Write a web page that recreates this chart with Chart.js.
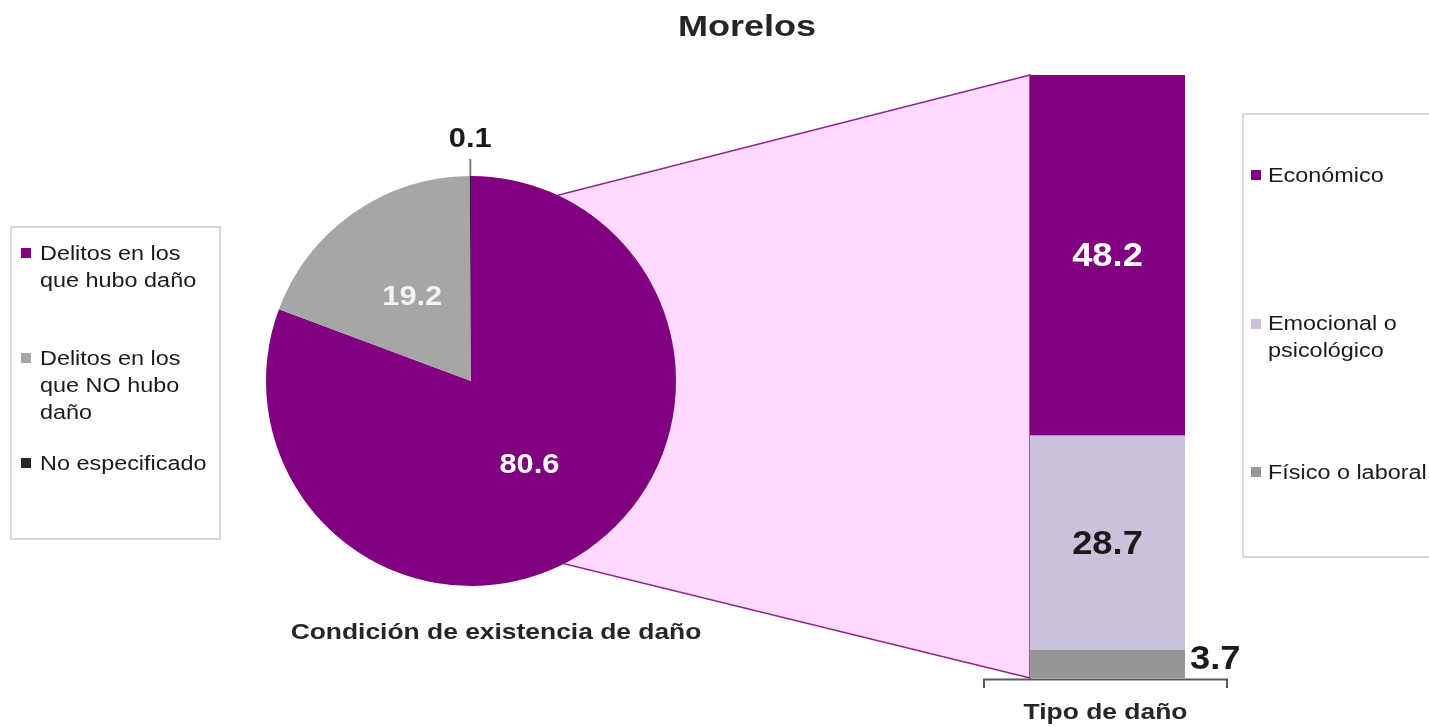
<!DOCTYPE html>
<html><head><meta charset="utf-8">
<script src="https://cdn.jsdelivr.net/npm/chart.js@4"></script>
<style>
html,body{margin:0;padding:0;background:#fff;width:1429px;height:727px;overflow:hidden;font-family:"Liberation Sans",Arial,sans-serif;}
canvas{position:absolute;left:0;top:0;}
.legend{position:absolute;border:2px solid #d9d9d9;box-sizing:border-box;}
.mk{position:absolute;width:10px;height:10px;}
.lt{position:absolute;font-size:19.5px;line-height:27px;color:#1a1a1a;transform:scaleX(1.2);transform-origin:0 0;}
</style></head><body>
<canvas id="bg" width="1429" height="727"></canvas>
<canvas id="pie" width="1429" height="727"></canvas>
<canvas id="bar" width="1429" height="727"></canvas>
<div id="legL" class="legend" style="left:10px;top:226px;width:211px;height:314px"></div>
<div id="legR" class="legend" style="left:1242px;top:113px;width:230px;height:445px"></div>
<script>
// ---- data ----
const TITLE = "Morelos";
const pieCategories = ["Delitos en los que hubo daño", "Delitos en los que NO hubo daño", "No especificado"];
const pieValues = [80.6, 19.2, 0.1];
const barCategories = ["Económico", "Emocional o psicológico", "Físico o laboral"];
const barValues = [48.2, 28.7, 3.7];
const pieAxisLabel = "Condición de existencia de daño";
const barAxisLabel = "Tipo de daño";

// ---- styles ----
const pieColors = ["#800080", "#A6A6A6", "#262626"];
const barColors = ["#800080", "#CCC1DA", "#969696"];
const FONT = '"Liberation Sans", Arial, sans-serif';

function drawText(ctx, text, x, y, size, color, align, sx) {
  ctx.save();
  ctx.translate(x, y);
  ctx.scale(sx, 1);
  ctx.font = "bold " + size + "px " + FONT;
  ctx.fillStyle = color;
  ctx.textAlign = align;
  ctx.textBaseline = "middle";
  ctx.fillText(text, 0, 0);
  ctx.restore();
}
function isDark(hex) {
  const n = parseInt(hex.slice(1), 16);
  const r = n >> 16, g = (n >> 8) & 255, b = n & 255;
  return (0.299 * r + 0.587 * g + 0.114 * b) < 140;
}

// ---- pie ----
const pieLabelPlugin = {
  id: "pieLabels",
  afterDatasetsDraw(chart) {
    const ctx = chart.ctx;
    chart.getDatasetMeta(0).data.forEach((arc, i) => {
      const v = pieValues[i];
      const mid = (arc.startAngle + arc.endAngle) / 2;
      const r = arc.outerRadius;
      if (v < 1) {
        ctx.save();
        ctx.strokeStyle = "#808080";
        ctx.lineWidth = 2;
        ctx.beginPath();
        ctx.moveTo(arc.x + Math.cos(mid) * r, arc.y + Math.sin(mid) * r);
        ctx.lineTo(arc.x + Math.cos(mid) * (r + 17), arc.y + Math.sin(mid) * (r + 17));
        ctx.stroke();
        ctx.restore();
        drawText(ctx, v.toFixed(1), arc.x + Math.cos(mid) * (r + 37), arc.y + Math.sin(mid) * (r + 37), 28, "#1a1a1a", "center", 1.1);
      } else {
        const p = arc.tooltipPosition();
        const col = i === 0 ? "#ffffff" : "#f2f2f2";
        drawText(ctx, v.toFixed(1), p.x, p.y, 28, col, "center", 1.1);
      }
    });
  }
};
const pieChart = new Chart(document.getElementById("pie"), {
  type: "pie",
  data: {
    labels: pieCategories,
    datasets: [{ data: pieValues, backgroundColor: pieColors, borderWidth: 0 }]
  },
  options: {
    responsive: false, animation: false, devicePixelRatio: 1,
    layout: { padding: { left: 266, right: 753, top: 176, bottom: 141 } },
    plugins: { legend: { display: false }, tooltip: { enabled: false }, title: { display: false } }
  },
  plugins: [pieLabelPlugin]
});

// ---- stacked bar ----
const barOrder = barValues.map((v, i) => i).reverse(); // bottom-most first
const barTotal = barValues.reduce((a, b) => a + b, 0);
const barLabelPlugin = {
  id: "barLabels",
  afterDatasetsDraw(chart) {
    const ctx = chart.ctx;
    chart.data.datasets.forEach((ds, di) => {
      const el = chart.getDatasetMeta(di).data[0];
      const idx = barOrder[di];
      const v = barValues[idx];
      const h = Math.abs(el.base - el.y);
      const cy = (el.y + el.base) / 2;
      if (h < 40) {
        drawText(ctx, v.toFixed(1), el.x + el.width / 2 + 5, cy - 4, 33, "#1a1a1a", "left", 1.1);
      } else {
        const col = isDark(barColors[idx]) ? "#ffffff" : "#1a1a1a";
        drawText(ctx, v.toFixed(1), el.x, cy + 2, 33, col, "center", 1.1);
      }
    });
  }
};
const barChart = new Chart(document.getElementById("bar"), {
  type: "bar",
  data: {
    labels: [barAxisLabel],
    datasets: barOrder.map(i => ({
      label: barCategories[i], data: [barValues[i]], backgroundColor: barColors[i],
      borderWidth: 0, barPercentage: 1, categoryPercentage: 1
    }))
  },
  options: {
    responsive: false, animation: false, devicePixelRatio: 1,
    layout: { padding: { left: 1030, right: 244, top: 75, bottom: 49 } },
    scales: {
      x: { display: false, stacked: true },
      y: { display: false, stacked: true, min: 0, max: barTotal }
    },
    plugins: { legend: { display: false }, tooltip: { enabled: false } }
  },
  plugins: [barLabelPlugin]
});

// ---- connector, bracket and captions ----
(function drawBg() {
  const ctx = document.getElementById("bg").getContext("2d");
  const arc = pieChart.getDatasetMeta(0).data[0];
  const cx = arc.x, cy = arc.y, r = arc.outerRadius;
  const topEl = barChart.getDatasetMeta(barOrder.length - 1).data[0];
  const botEl = barChart.getDatasetMeta(0).data[0];
  const left = topEl.x - topEl.width / 2, right = topEl.x + topEl.width / 2;
  const topY = topEl.y, botY = botEl.base;
  const a1 = -65 * Math.PI / 180, a2 = 63 * Math.PI / 180;
  const p1 = [cx + r * Math.cos(a1), cy + r * Math.sin(a1)];
  const p2 = [cx + r * Math.cos(a2), cy + r * Math.sin(a2)];
  ctx.beginPath();
  ctx.moveTo(cx, cy);
  ctx.lineTo(p1[0], p1[1]);
  ctx.lineTo(left, topY);
  ctx.lineTo(left, botY);
  ctx.lineTo(p2[0], p2[1]);
  ctx.closePath();
  ctx.fillStyle = "#FFD9FF";
  ctx.fill();
  ctx.strokeStyle = "#8E2A8E";
  ctx.lineWidth = 1.5;
  ctx.beginPath();
  ctx.moveTo(p1[0], p1[1]); ctx.lineTo(left, topY); ctx.lineTo(left, botY); ctx.lineTo(p2[0], p2[1]);
  ctx.stroke();
  // bracket
  const bx = (left + right) / 2 - 2, hw = (right - left) / 2 + 44;
  ctx.strokeStyle = "#595959";
  ctx.lineWidth = 2;
  ctx.beginPath();
  ctx.moveTo(bx - hw, botY + 10); ctx.lineTo(bx - hw, botY + 1.5);
  ctx.lineTo(bx + hw, botY + 1.5); ctx.lineTo(bx + hw, botY + 10);
  ctx.stroke();
  // texts
  drawText(ctx, TITLE, 747, 28, 30, "#262626", "center", 1.2);
  drawText(ctx, pieAxisLabel, cx + 25, cy + r + 47, 22, "#262626", "center", 1.2);
  drawText(ctx, barAxisLabel, bx, botY + 35, 22, "#262626", "center", 1.2);
})();

// ---- legends ----
function buildLegend(id, names, colors, firstCenter, spacing, mkLeft, txtLeft, txtWidth) {
  const box = document.getElementById(id);
  names.forEach((n, i) => {
    const c = firstCenter + i * spacing;
    const mk = document.createElement("div");
    mk.className = "mk";
    mk.style.left = mkLeft + "px";
    mk.style.top = (c - 5) + "px";
    mk.style.background = colors[i];
    const t = document.createElement("div");
    t.className = "lt";
    t.style.left = txtLeft + "px";
    t.style.top = (c - 13.5) + "px";
    t.style.width = txtWidth + "px";
    t.textContent = n;
    box.appendChild(mk);
    box.appendChild(t);
  });
}
buildLegend("legL", pieCategories, pieColors, 25, 105, 9, 28, 147);
buildLegend("legR", barCategories, barColors, 60, 148.5, 7, 24, 150);
</script>
</body></html>
